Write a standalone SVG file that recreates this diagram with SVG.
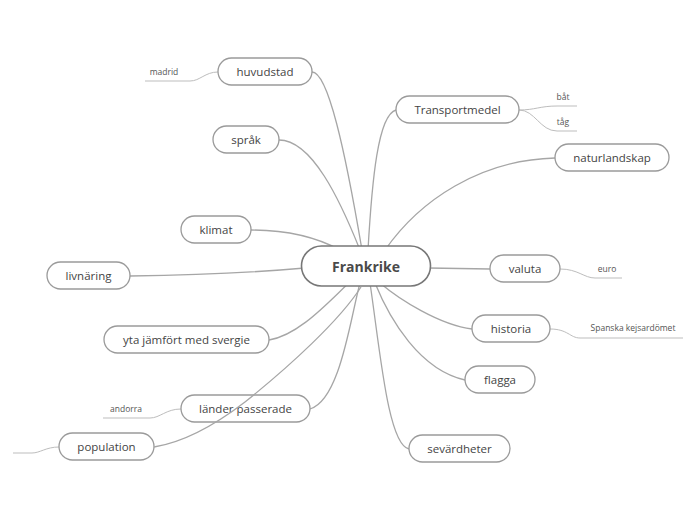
<svg xmlns="http://www.w3.org/2000/svg" width="696" height="520" viewBox="0 0 696 520">
<style>
.c{fill:none;stroke:#a6a6a6;stroke-width:1.3}
.l{fill:none;stroke:#bdbdbd;stroke-width:1}
.n rect{fill:#fff;stroke:#9a9a9a;stroke-width:1.3}
.n text{font-family:"Open Sans","Noto Sans",sans-serif;font-size:11.5px;fill:#444;text-anchor:middle}
.s{font-family:"Open Sans","Noto Sans",sans-serif;font-size:8.5px;fill:#555;text-anchor:middle}
</style>
<rect width="696" height="520" fill="#fff"/>
<g id="connectors">
<path class="c" d="M312,72 C328,72 345,150 362,250"/>
<path class="c" d="M279,140 C312,140 340,200 360,250"/>
<path class="c" d="M251,230 C290,230 318,238 340,250"/>
<path class="c" d="M130,276 C200,275 260,272 305,268"/>
<path class="c" d="M269,340 C300,335 330,300 352,280"/>
<path class="c" d="M310,409 C340,400 350,320 360,283"/>
<path class="c" d="M396,110 C378,115 372,180 368,250"/>
<path class="c" d="M555,158 C480,160 420,200 385,250"/>
<path class="c" d="M428,268 L490,269"/>
<path class="c" d="M472,329 C440,325 400,300 380,283"/>
<path class="c" d="M465,380 C420,370 390,320 375,283"/>
<path class="c" d="M409,449 C388,445 380,350 370,283"/>
<path class="l" d="M218,72 C205,72 200,81 190,81 L145,81"/>
<path class="l" d="M519,110 C535,110 540,106 557,106 L577,106"/>
<path class="l" d="M519,110 C535,110 540,131 557,131 L577,131"/>
<path class="l" d="M560,269 C578,269 584,278 595,278 L622,278"/>
<path class="l" d="M550,329 C568,329 570,338 580,338 L683,338"/>
<path class="l" d="M181,409 C166,409 160,418 150,418 L103,418"/>
<path class="l" d="M59,447 C46,447 40,453 32,453 L13,453"/>
</g>
<g id="frankrike" class="n"><rect x="301.5" y="246" width="129" height="40" rx="20" style="stroke:#777;stroke-width:1.6"/><text x="366" y="272" style="font-size:14px;font-weight:bold;fill:#4a4a4a">Frankrike</text></g>
<g id="huvudstad" class="n"><rect x="218" y="58" width="94" height="27" rx="13.5"/><text x="265" y="76">huvudstad</text></g>
<g id="sprak" class="n"><rect x="213" y="126" width="66" height="27" rx="13.5"/><text x="246" y="144">språk</text></g>
<g id="klimat" class="n"><rect x="181" y="216" width="70" height="27" rx="13.5"/><text x="216" y="234">klimat</text></g>
<g id="livnaring" class="n"><rect x="47" y="262" width="83" height="27" rx="13.5"/><text x="88.5" y="280">livnäring</text></g>
<g id="yta" class="n"><rect x="104" y="326" width="165" height="27" rx="13.5"/><text x="186.5" y="344">yta jämfört med svergie</text></g>
<g id="lander" class="n"><rect x="181" y="395" width="129" height="27" rx="13.5"/><text x="245.5" y="413">länder passerade</text></g>
<g id="population" class="n"><rect x="59" y="433" width="95" height="27" rx="13.5"/><text x="106.5" y="451">population</text></g>
<g id="transportmedel" class="n"><rect x="396" y="96" width="123" height="27" rx="13.5"/><text x="457.5" y="114">Transportmedel</text></g>
<g id="naturlandskap" class="n"><rect x="555" y="144" width="114" height="27" rx="13.5"/><text x="612" y="162">naturlandskap</text></g>
<g id="valuta" class="n"><rect x="490" y="255" width="70" height="27" rx="13.5"/><text x="525" y="273">valuta</text></g>
<g id="historia" class="n"><rect x="472" y="315" width="78" height="27" rx="13.5"/><text x="511" y="333">historia</text></g>
<g id="flagga" class="n"><rect x="465" y="366" width="70" height="27" rx="13.5"/><text x="500" y="384">flagga</text></g>
<g id="sevardheter" class="n"><rect x="409" y="435" width="101" height="27" rx="13.5"/><text x="459.5" y="453">sevärdheter</text></g>
<g id="madrid"><text class="s" x="164" y="75">madrid</text></g>
<g id="bat"><text class="s" x="563" y="100">båt</text></g>
<g id="tag"><text class="s" x="563" y="125">tåg</text></g>
<g id="euro"><text class="s" x="607" y="272">euro</text></g>
<g id="spanska"><text class="s" x="633" y="331">Spanska kejsardömet</text></g>
<g id="andorra"><text class="s" x="126" y="412">andorra</text></g>
<g id="connectors-over">
<path class="c" d="M154,447 C185,442 215,425 245,402 C290,366 340,320 361,287"/>
</g>
</svg>
